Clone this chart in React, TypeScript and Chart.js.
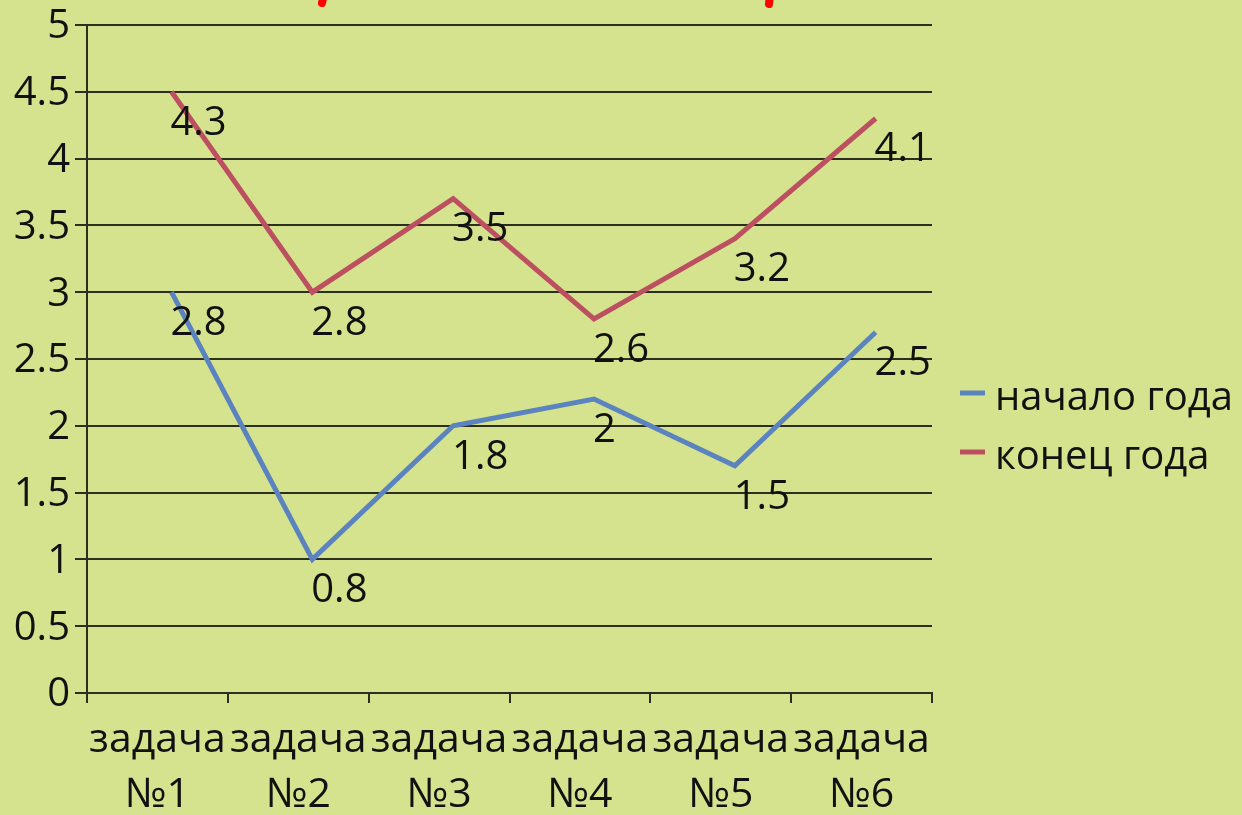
import React, { useEffect, useRef } from "react";
import { Chart, registerables } from "chart.js";

Chart.register(...registerables);

// ---- data ----
const categories: string[][] = [
  ["задача", "№1"],
  ["задача", "№2"],
  ["задача", "№3"],
  ["задача", "№4"],
  ["задача", "№5"],
  ["задача", "№6"],
];
const seriesNames: string[] = ["начало года", "конец года"];
const startOfYear: number[] = [2.8, 0.8, 1.8, 2, 1.5, 2.5];
const endOfYear: number[] = [4.3, 2.8, 3.5, 2.6, 3.2, 4.1];
const yMin = 0;
const yMax = 5;
const yStep = 0.5;

// ---- styles ----
const FONT = "'Open Sans', 'Noto Sans', sans-serif";
const WEIGHT = 500;
const BG = "#D5E38F";
const TEXT = "#111111";
const GRID = "#2c2f20";
const BLUE = "#5A83BF";
const RED = "#BC5061";

const valueLabels = {
  id: "valueLabels",
  afterDatasetsDraw(chart: any) {
    const ctx = chart.ctx;
    const xs = chart.scales.x;
    const ys = chart.scales.y;
    ctx.save();
    ctx.font = `${WEIGHT} 40px ${FONT}`;
    ctx.fillStyle = TEXT;
    ctx.textAlign = "left";
    ctx.textBaseline = "alphabetic";
    chart.data.datasets.forEach((ds: any) => {
      ds.data.forEach((p: any, i: number) => {
        const px = xs.getPixelForValue(i);
        const py = ys.getPixelForValue(p.y);
        ctx.fillText(String(p.y), px + 13, py + 16);
      });
    });
    ctx.restore();
  },
};

const sideLegend = {
  id: "sideLegend",
  afterDraw(chart: any) {
    const ctx = chart.ctx;
    const area = chart.chartArea;
    const x0 = area.right + 28;
    const rows = [393, 452];
    ctx.save();
    ctx.font = `${WEIGHT} 40px ${FONT}`;
    ctx.fillStyle = TEXT;
    ctx.textAlign = "left";
    ctx.textBaseline = "alphabetic";
    chart.data.datasets.forEach((ds: any, i: number) => {
      const y = rows[i];
      ctx.strokeStyle = ds.borderColor;
      ctx.lineWidth = 5;
      ctx.lineCap = "butt";
      ctx.beginPath();
      ctx.moveTo(x0, y);
      ctx.lineTo(x0 + 25, y);
      ctx.stroke();
      ctx.fillText(ds.label, x0 + 35, y + 17);
    });
    ctx.restore();
  },
};

const clippedTitle = {
  id: "clippedTitle",
  afterDraw(chart: any) {
    const ctx = chart.ctx;
    ctx.save();
    ctx.strokeStyle = "#FF0000";
    ctx.lineWidth = 8;
    ctx.lineCap = "round";
    ctx.beginPath();
    ctx.moveTo(324, -6);
    ctx.lineTo(322, 3);
    ctx.moveTo(770, -6);
    ctx.lineTo(769, 4);
    ctx.stroke();
    ctx.restore();
  },
};

export default function App() {
  const ref = useRef<HTMLCanvasElement | null>(null);

  useEffect(() => {
    if (!ref.current) return;
    const chart = new Chart(ref.current, {
      type: "line",
      data: {
        labels: categories,
        datasets: [
          {
            label: seriesNames[0],
            data: startOfYear.map((v, i) => ({ x: i, y: v })),
            borderColor: BLUE,
            backgroundColor: BLUE,
            borderWidth: 5,
            pointRadius: 0,
            tension: 0,
            xAxisID: "x2",
            yAxisID: "y2",
          },
          {
            label: seriesNames[1],
            data: endOfYear.map((v, i) => ({ x: i, y: v })),
            borderColor: RED,
            backgroundColor: RED,
            borderWidth: 5,
            pointRadius: 0,
            tension: 0,
            xAxisID: "x2",
            yAxisID: "y2",
          },
        ],
      },
      options: {
        responsive: false,
        animation: false,
        devicePixelRatio: 1,
        layout: { padding: { left: 0, right: 310, top: 22, bottom: 0 } },
        plugins: {
          legend: { display: false },
          tooltip: { enabled: false },
          title: { display: false },
        },
        scales: {
          x: {
            type: "category",
            offset: true,
            grid: {
              display: true,
              drawOnChartArea: false,
              drawTicks: true,
              tickLength: 10,
              color: GRID,
              lineWidth: 2,
              offset: true,
            },
            border: { display: true, color: GRID, width: 2 },
            ticks: {
              color: TEXT,
              font: { family: FONT, size: 41, weight: WEIGHT, lineHeight: 1.34 },
              padding: 10,
              maxRotation: 0,
              autoSkip: false,
            },
            afterFit(scale: any) {
              scale.height = 122;
            },
          },
          y: {
            type: "linear",
            min: yMin,
            max: yMax,
            grid: {
              display: true,
              drawOnChartArea: true,
              drawTicks: true,
              tickLength: 12,
              color: GRID,
              lineWidth: 2,
            },
            border: { display: true, color: GRID, width: 2 },
            ticks: {
              stepSize: yStep,
              color: TEXT,
              font: { family: FONT, size: 40, weight: WEIGHT, lineHeight: 1 },
              padding: 5,
              labelOffset: 2,
              callback: (v: any) => String(v),
            },
            afterFit(scale: any) {
              scale.width = 87;
            },
          },
          x2: {
            type: "linear",
            display: false,
            min: -0.6,
            max: 5.4,
          },
          y2: {
            type: "linear",
            display: false,
            min: yMin - 0.2,
            max: yMax - 0.2,
          },
        },
      },
      plugins: [valueLabels, sideLegend, clippedTitle],
    } as any);
    return () => chart.destroy();
  }, []);

  return (
    <div
      style={{
        position: "fixed",
        left: 0,
        top: 0,
        width: 1242,
        height: 815,
        background: BG,
        overflow: "hidden",
      }}
    >
      <canvas ref={ref} width={1242} height={815} style={{ display: "block" }} />
    </div>
  );
}
